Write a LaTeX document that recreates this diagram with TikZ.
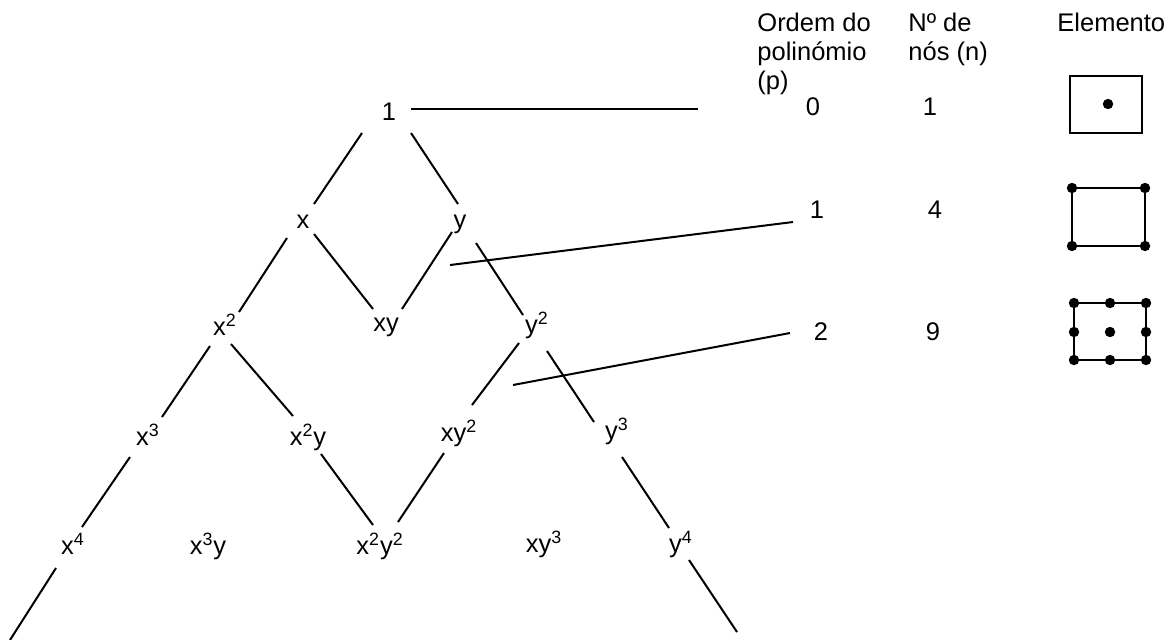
\documentclass[tikz,border=0pt]{standalone}
\usepackage{fontspec}
\setmainfont{Liberation Sans}
\usetikzlibrary{calc}

\tikzset{
  mono/.style={anchor=base, inner sep=0pt},
  ramo/.style={line width=1pt},
  cab/.style={anchor=base west, inner sep=0pt, align=left},
}

\begin{document}
\begin{tikzpicture}[x=0.5pt,y=-0.5pt,font=\fontsize{12.75}{14.5}\selectfont]
  \useasboundingbox (0,0) rectangle (1176,639);
  % monomials
  \node[mono] (m00) at (389,120) {1};
  \node[mono] (m10) at (303,228) {x};
  \node[mono] (m01) at (460,228) {y};
  \node[mono] (m20) at (225,335) {x\textsuperscript{2}};
  \node[mono] (m11) at (386,331) {xy};
  \node[mono] (m02) at (537,333) {y\textsuperscript{2}};
  \node[mono] (m30) at (148,445) {x\textsuperscript{3}};
  \node[mono] (m21) at (308,445) {x\textsuperscript{2}y};
  \node[mono] (m12) at (459,441) {xy\textsuperscript{2}};
  \node[mono] (m03) at (617,439) {y\textsuperscript{3}};
  \node[mono] (m40) at (73,554) {x\textsuperscript{4}};
  \node[mono] (m31) at (208,554) {x\textsuperscript{3}y};
  \node[mono] (m22) at (380,554) {x\textsuperscript{2}y\textsuperscript{2}};
  \node[mono] (m13) at (544,552) {xy\textsuperscript{3}};
  \node[mono] (m04) at (681,552) {y\textsuperscript{4}};
  \coordinate (fimx) at (10,640);
  \coordinate (fimy) at (737,632);

  % table on the right (base = last line)
  \node[cab] (ordem) at (757,89) {Ordem do\\polinómio\\(p)};
  \node[cab] (nos) at (908,60) {Nº de\\nós (n)};
  \node[cab] (elem) at (1057,31) {Elemento};
  \node[mono] (p0) at (813,115) {0};
  \node[mono] (n0) at (930,115) {1};
  \node[mono] (p1) at (817,218) {1};
  \node[mono] (n1) at (935,218) {4};
  \node[mono] (p2) at (821,340) {2};
  \node[mono] (n2) at (933,340) {9};

  % branches
  \draw[ramo] ($(m00.base)+(-27,13)$) -- ($(m10.base)+(11,-24)$);
  \draw[ramo] ($(m00.base)+(22,13)$) -- ($(m01.base)+(-2,-24)$);
  \draw[ramo] ($(m10.base)+(11,6)$) -- ($(m11.base)+(-13,-22)$);
  \draw[ramo] ($(m01.base)+(-8,4)$) -- ($(m11.base)+(16,-22)$);
  \draw[ramo] ($(m10.base)+(-16,10)$) -- ($(m20.base)+(14,-23)$);
  \draw[ramo] ($(m01.base)+(16,15)$) -- ($(m02.base)+(-14,-18)$);
  \draw[ramo] ($(m20.base)+(-15,11)$) -- ($(m30.base)+(14,-28)$);
  \draw[ramo] ($(m20.base)+(6,9)$) -- ($(m21.base)+(-15,-29)$);
  \draw[ramo] ($(m02.base)+(-18,10)$) -- ($(m12.base)+(13,-36)$);
  \draw[ramo] ($(m02.base)+(10,18)$) -- ($(m03.base)+(-23,-17)$);
  \draw[ramo] ($(m30.base)+(-18,12)$) -- ($(m40.base)+(9,-27)$);
  \draw[ramo] ($(m21.base)+(13,9)$) -- ($(m22.base)+(-7,-29)$);
  \draw[ramo] ($(m12.base)+(-15,12)$) -- ($(m22.base)+(18,-32)$);
  \draw[ramo] ($(m03.base)+(5,18)$) -- ($(m04.base)+(-12,-24)$);
  \draw[ramo] ($(m40.base)+(-17,14)$) -- (fimx);
  \draw[ramo] ($(m04.base)+(8,8)$) -- (fimy);

  % pointers to the rows
  \coordinate (d1) at (450,265);
  \coordinate (d2) at (513,385);
  \draw[ramo] ($(m00.base)+(22,-11)$) -- ($(p0.base)+(-115,-6)$);
  \draw[ramo] (d1) -- ($(p1.base)+(-24,4)$);
  \draw[ramo] (d2) -- ($(p2.base)+(-31,-7)$);

  % elements
  \draw[ramo] (1070,76) rectangle (1142,133);
  \fill (1108,104) circle (2.6pt);
  \draw[ramo] (1072,188) rectangle (1145,246);
  \foreach \i in {1072,1145}
    \foreach \j in {188,246}
      \fill (\i,\j) circle (2.6pt);
  \draw[ramo] (1074,303) rectangle (1146,360);
  \foreach \i in {1074,1110,1146}
    \foreach \j in {303,332,360}
      \fill (\i,\j) circle (2.6pt);
\end{tikzpicture}
\end{document}
